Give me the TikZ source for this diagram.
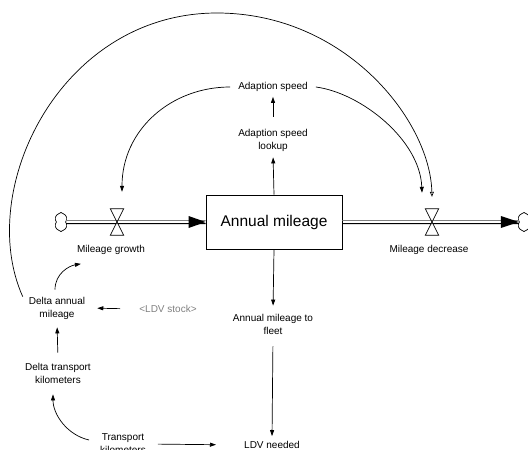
\documentclass[tikz,border=0pt]{standalone}
\usepackage{fontspec}
\setmainfont{Liberation Sans}
\usepackage{color}
\usepackage{tikz}
\usetikzlibrary{arrows.meta}
\usetikzlibrary{shapes.symbols}
\definecolor{shadowgray}{RGB}{128,128,128}
\tikzset{
  link/.style={-{Triangle[length=6pt,width=4pt]}, line width=0.7pt},
  openlink/.style={-{Triangle[open,length=5pt,width=4pt]}, line width=0.7pt},
  pipe/.style={line width=0.8pt},
  valve/.style={minimum width=13pt, minimum height=26pt, inner sep=0pt},
  srcsink/.style={cloud, cloud puffs=6, cloud puff arc=110, aspect=0.7, draw=black, fill=white, minimum width=13pt, minimum height=19pt, inner sep=0pt, line width=0.7pt},
  lbl/.style={align=center, inner sep=2pt, font=\fontsize{10pt}{13pt}\selectfont}
}

\begin{document}
\begin{tikzpicture}[x=1pt, y=-1pt]
      \useasboundingbox (0,0) rectangle (528,450);
      \node (stock) [shape=rectangle, draw=black, line width=0.8pt, minimum width=136pt, minimum height=54pt, font=\fontsize{15.5pt}{18pt}\selectfont] at (274,222) {Annual mileage};
      \node (src) [srcsink] at (61,222) {};
      \node (sink) [srcsink] at (524,222) {};
      \draw [pipe, shadowgray] ([yshift=1.6pt]src.east) -- ([yshift=1.6pt]stock.west);
      \draw [pipe] ([yshift=-1.6pt]src.east) -- ([yshift=-1.6pt]stock.west);
      \draw [pipe, shadowgray] ([yshift=1.6pt]stock.east) -- ([yshift=1.6pt]sink.west);
      \draw [pipe] ([yshift=-1.6pt]stock.east) -- ([yshift=-1.6pt]sink.west);
      \fill (stock.west) -- ++(-17,-6) -- ++(0,12) -- cycle;
      \fill (sink.west) -- ++(-18,-6) -- ++(0,12) -- cycle;
      \node (vgrow) [valve] at (117,222) {};
      \node (vdec) [valve] at (432,222) {};
      \foreach \v in {vgrow,vdec}
        \draw [fill=white, line width=0.7pt] (\v.north west) -- (\v.north east) -- (\v.south west) -- (\v.south east) -- cycle;
      \node (growth) [lbl] at (111,250) {Mileage growth};
      \node (decrease) [lbl] at (429,250) {Mileage decrease};
      \node (adapt) [lbl] at (273,87) {Adaption speed};
      \node (lookup) [lbl] at (273,140) {Adaption speed\\lookup};
      \node (tofleet) [lbl] at (273,324) {Annual mileage to\\fleet};
      \node (ldvneed) [lbl] at (272,445) {LDV needed};
      \node (transport) [lbl] at (123,444) {Transport\\kilometers};
      \node (dtrans) [lbl] at (58,373) {Delta transport\\kilometers};
      \node (dannual) [lbl] at (57,308) {Delta annual\\mileage};
      \node (ldvstock) [lbl, text=shadowgray] at (168,309) {<LDV stock>};
      \draw [link, shorten >=4pt] (stock.north) -- (lookup.south);
      \draw [link, shorten <=10pt, shorten >=3pt] (lookup.north) -- (adapt.south);
      \draw [link, shorten >=6pt] (stock.south) -- (tofleet.north);
      \draw [link, shorten <=10pt, shorten >=3pt] (tofleet.south) -- (ldvneed.north);
      \draw [link, shorten <=10pt, shorten >=26pt] (transport.east) -- (ldvneed.west);
      \draw [link, shorten <=17pt, shorten >=10pt] (ldvstock.west) -- (dannual.east);
      \draw [link, shorten <=8pt, shorten >=6pt] (dtrans.north) -- (dannual.south);
      \draw [link] ([shift={(-9,-4)}]transport.west) .. controls +(-22,-5) and +(0,20) .. ([shift={(-5,9)}]dtrans.south);
      \draw [link] ([shift={(-2,-5)}]dannual.north) .. controls +(0,-16) and +(-12,2) .. ([shift={(6,7)}]growth.south west);
      \draw [link] ([xshift=-6pt]adapt.west) .. controls +(-59,0) and +(0,-62) .. ([shift={(5,-17)}]vgrow.north);
      \draw [link] ([xshift=6pt]adapt.east) .. controls +(45,6) and +(-2,-53) .. ([shift={(-10,-16)}]vdec.north);
      \draw [openlink] ([shift={(-4,2)}]dannual.north west) .. controls (-25,190) and (60,13) .. (217,13) .. controls (345,13) and (430,120) .. ([shift={(0,-12)}]vdec.north);
\end{tikzpicture}
\end{document}
